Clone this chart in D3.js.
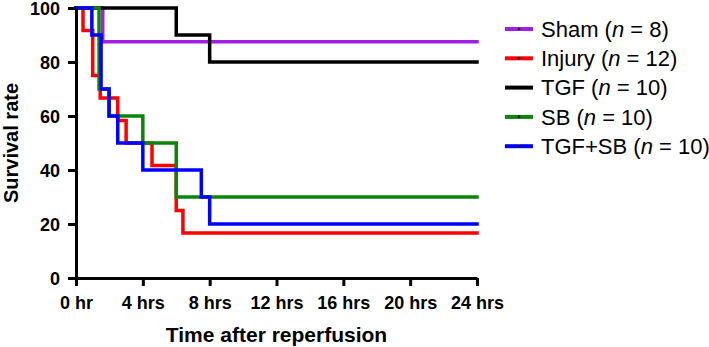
<!DOCTYPE html>
<html>
<head>
<meta charset="utf-8">
<script src="https://cdn.jsdelivr.net/npm/d3@7"></script>
<style>
    body { margin: 0; background: #ffffff; }
    text { font-family: "Liberation Sans", Arial, sans-serif; }
</style>
</head>
<body>
<script>
// 数据：各组生存曲线的时间点（小时）和生存率（%）
const groupNames = ['Sham', 'Injury', 'TGF', 'SB', 'TGF+SB'];
const groupSizes = [8, 12, 10, 10, 10];
const groupColors = ['#a21ee6', '#ff0000', '#000000', '#0a850a', '#0000ff'];

const shamTimes = [0, 1.6, 24];
const shamRates = [100, 87.5, 87.5];
const injuryTimes = [0, 0.42, 1.0, 1.45, 2.5, 3.0, 4.55, 6.0, 6.4, 24];
const injuryRates = [100, 91.7, 75, 66.7, 58.3, 50, 41.7, 25, 16.7, 16.7];
const tgfTimes = [0, 6.0, 8.0, 24];
const tgfRates = [100, 90, 80, 80];
const sbTimes = [0, 1.38, 1.98, 4.0, 6.0, 24];
const sbRates = [100, 70, 60, 50, 30, 30];
const tgfSbTimes = [0, 0.95, 1.5, 1.98, 2.5, 4.0, 7.5, 8.0, 24];
const tgfSbRates = [100, 90, 70, 60, 50, 40, 30, 20, 20];

const xTicks = [0, 4, 8, 12, 16, 20, 24];
const xTickLabels = ['0 hr', '4 hrs', '8 hrs', '12 hrs', '16 hrs', '20 hrs', '24 hrs'];
const yTicks = [0, 20, 40, 60, 80, 100];

const seriesTimes = [shamTimes, injuryTimes, tgfTimes, sbTimes, tgfSbTimes];
const seriesRates = [shamRates, injuryRates, tgfRates, sbRates, tgfSbRates];

const svgWidth = 709, svgHeight = 347;
const margin = {left: 76, right: 232, top: 8, bottom: 69};

// 定义 svg 元素
let svg = d3.select('body')
    .append('svg')
    .attr('width', svgWidth)
    .attr('height', svgHeight);

let x = d3.scaleLinear().domain([0, 24]).range([margin.left, svgWidth - margin.right]);
let y = d3.scaleLinear().domain([0, 100]).range([svgHeight - margin.bottom, margin.top]);

// 生存曲线
let line = d3.line()
    .x(d => x(d[0]))
    .y(d => y(d[1]))
    .curve(d3.curveStepAfter);

seriesTimes.forEach((times, i) => {
    let pts = times.map((t, j) => [t, seriesRates[i][j]]);
    svg.append('path')
        .datum(pts)
        .attr('d', line)
        .attr('fill', 'none')
        .attr('stroke', groupColors[i])
        .attr('stroke-width', 3.5)
        .attr('stroke-linejoin', 'miter')
        .attr('stroke-linecap', 'square');
});

// 坐标轴
let xAxis = svg.append('g')
    .attr('transform', `translate(0,${y(0)})`)
    .call(d3.axisBottom(x).tickValues(xTicks).tickSize(8).tickSizeOuter(0)
        .tickFormat((d, i) => xTickLabels[i]));
let yAxis = svg.append('g')
    .attr('transform', `translate(${x(0)},0)`)
    .call(d3.axisLeft(y).tickValues(yTicks).tickSize(8).tickSizeOuter(0));

[xAxis, yAxis].forEach(a => {
    a.select('.domain').attr('stroke', '#000').attr('stroke-width', 3);
    a.selectAll('.tick line').attr('stroke', '#000').attr('stroke-width', 3);
    a.selectAll('.tick text')
        .attr('fill', '#000')
        .style('font-family', '"Liberation Sans", Arial, sans-serif')
        .style('font-weight', 'bold')
        .style('font-size', '18px');
});
xAxis.selectAll('.tick text').attr('y', 18).attr('dy', '0.71em');
yAxis.selectAll('.tick text').attr('x', -16).attr('dy', '0.36em');

// 轴标题
svg.append('text')
    .attr('x', (x(0) + x(24)) / 2)
    .attr('y', 342)
    .attr('text-anchor', 'middle')
    .style('font-weight', 'bold')
    .style('font-size', '21px')
    .text('Time after reperfusion');

svg.append('text')
    .attr('transform', `translate(18,${(y(0) + y(100)) / 2}) rotate(-90)`)
    .attr('text-anchor', 'middle')
    .style('font-weight', 'bold')
    .style('font-size', '20px')
    .text('Survival rate');

// 图例
let legend = svg.append('g');
groupNames.forEach((name, i) => {
    let ly = 29 + i * 29.3;
    legend.append('line')
        .attr('x1', 505).attr('x2', 533)
        .attr('y1', ly).attr('y2', ly)
        .attr('stroke', groupColors[i])
        .attr('stroke-width', 4);
    legend.append('circle')
        .attr('cx', 519).attr('cy', ly).attr('r', 1.3)
        .attr('fill', '#000');
    let t = legend.append('text')
        .attr('x', 541).attr('y', ly)
        .attr('dy', '0.35em')
        .style('font-size', '22px')
        .attr('fill', '#000');
    t.append('tspan').text(`${name} (`);
    t.append('tspan').style('font-style', 'italic').text('n');
    t.append('tspan').text(` = ${groupSizes[i]})`);
});
</script>
</body>
</html>
